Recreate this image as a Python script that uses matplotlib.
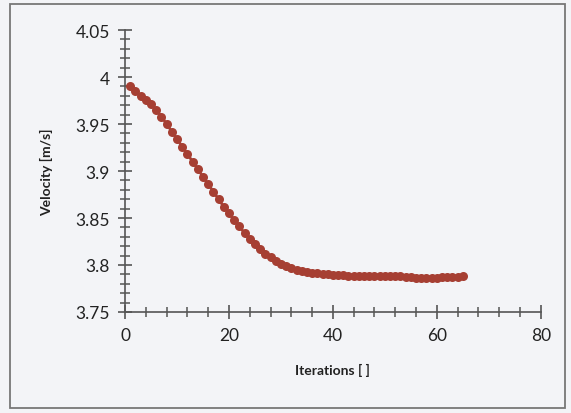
import matplotlib.pyplot as plt
from matplotlib.patches import Rectangle
from matplotlib.ticker import MultipleLocator

# iteration number and the velocity
iterations = list(range(1, 66))
velocity = [
    3.990, 3.985, 3.980, 3.976, 3.971, 3.965, 3.958, 3.950, 3.942, 3.934,
    3.926, 3.918, 3.910, 3.902, 3.894, 3.886, 3.878, 3.870, 3.862, 3.855,
    3.848, 3.841, 3.834, 3.828, 3.822, 3.817, 3.812, 3.808, 3.804, 3.801,
    3.799, 3.797, 3.795, 3.794, 3.793, 3.792, 3.791, 3.790, 3.790, 3.789,
    3.789, 3.789, 3.788, 3.788, 3.788, 3.788, 3.788, 3.788, 3.788, 3.788,
    3.788, 3.788, 3.788, 3.787, 3.787, 3.786, 3.786, 3.786, 3.786, 3.786,
    3.787, 3.787, 3.787, 3.787, 3.788,
]

plt.rcParams['font.family'] = ['Lato', 'DejaVu Sans']

fig = plt.figure(figsize=(5.71, 4.14), dpi=100, facecolor='#f3f4f7')
ax = fig.add_axes([0.219, 0.244, 0.728, 0.681])
ax.set_facecolor('#f3f4f7')

# chart area border like in Excel
fig.patches.append(Rectangle((0.018, 0.012), 0.972, 0.976, transform=fig.transFigure,
                             fill=False, edgecolor='#777777', linewidth=1.3))

ax.plot(iterations, velocity, color='#a63f33', linewidth=2,
        marker='o', markersize=6.5, markeredgewidth=0)

ax.set_xlim(0, 80)
ax.set_ylim(3.75, 4.05)
ax.xaxis.set_major_locator(MultipleLocator(20))
ax.xaxis.set_minor_locator(MultipleLocator(4))
ax.yaxis.set_minor_locator(MultipleLocator(0.01))
ax.set_yticks([3.75, 3.8, 3.85, 3.9, 3.95, 4, 4.05])
ax.set_yticklabels(['3.75', '3.8', '3.85', '3.9', '3.95', '4', '4.05'])

for side in ['top', 'right']:
    ax.spines[side].set_visible(False)
for side in ['left', 'bottom']:
    ax.spines[side].set_color('#555555')
    ax.spines[side].set_linewidth(1.2)

ax.tick_params(which='major', direction='inout', length=10, width=1.2, color='#555555',
               labelsize=12.5, labelcolor='#222222', pad=6)
ax.tick_params(which='minor', direction='inout', length=7, width=1.1, color='#555555')

ax.set_xlabel('Iterations [ ]', fontsize=10, fontweight='bold', color='#222222', labelpad=14)
ax.set_ylabel('Velocity [m/s]', fontsize=10, fontweight='bold', color='#222222', labelpad=16)

plt.savefig('out.png', dpi=100, facecolor=fig.get_facecolor())
